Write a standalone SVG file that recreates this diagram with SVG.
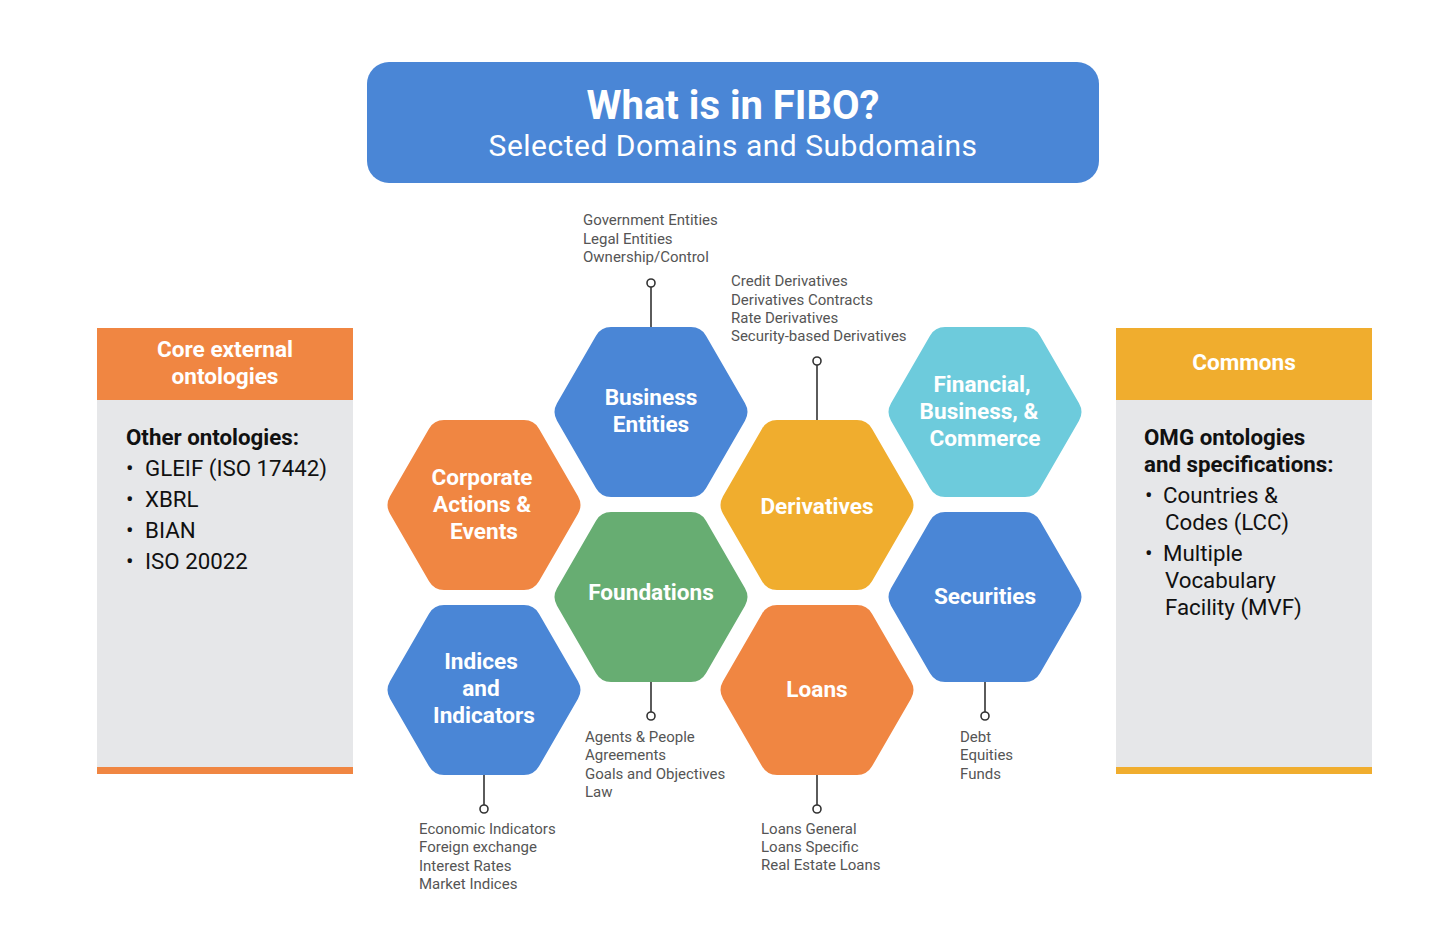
<svg xmlns="http://www.w3.org/2000/svg" width="1450" height="945" viewBox="0 0 1450 945">
<defs>
<style>
.hl{font-family:Roboto,"Liberation Sans",sans-serif;font-weight:700;fill:#fff;font-size:22.6px;text-anchor:middle}
.sm{font-family:Roboto,"Liberation Sans",sans-serif;fill:#555;font-size:15px}
.pt{font-family:Roboto,"Liberation Sans",sans-serif;fill:#111;font-size:22.3px}
.pb{font-family:Roboto,"Liberation Sans",sans-serif;fill:#111;font-size:22.3px;font-weight:700}
.ln{stroke:#333;stroke-width:1.6;fill:none}
.dot{stroke:#333;stroke-width:1.6;fill:#fff}
</style>
<path id="hex" d="M -94,8.67 Q -99,0 -94,-8.67 L -55,-76.33 Q -50,-85 -40,-85 L 40,-85 Q 50,-85 55,-76.33 L 94,-8.67 Q 99,0 94,8.67 L 55,76.33 Q 50,85 40,85 L -40,85 Q -50,85 -55,76.33 Z"/>
</defs>
<rect width="1450" height="945" fill="#fff"/>
<g id="title">
<rect x="367" y="62" width="732" height="121" rx="22" fill="#4A86D6"/>
<text x="733" y="119" text-anchor="middle" font-family="Roboto,'Liberation Sans',sans-serif" font-weight="700" font-size="40" fill="#fff">What is in FIBO?</text>
<text x="733" y="156" text-anchor="middle" font-family="Roboto,'Liberation Sans',sans-serif" font-size="30" letter-spacing="0.5" fill="#fff">Selected Domains and Subdomains</text>
</g>
<g id="panel-left">
<rect x="97" y="328" width="256" height="446" fill="#E6E7E9"/>
<rect x="97" y="328" width="256" height="72" fill="#F08642"/>
<rect x="97" y="767" width="256" height="7" fill="#F08642"/>
<text class="hl" x="225" y="357">Core external</text>
<text class="hl" x="225" y="384">ontologies</text>
<text class="pb" x="126" y="445">Other ontologies:</text>
<text class="pt" x="126" y="476">•</text><text class="pt" x="145" y="476">GLEIF (ISO 17442)</text>
<text class="pt" x="126" y="507">•</text><text class="pt" x="145" y="507">XBRL</text>
<text class="pt" x="126" y="538">•</text><text class="pt" x="145" y="538">BIAN</text>
<text class="pt" x="126" y="569">•</text><text class="pt" x="145" y="569">ISO 20022</text>
</g>
<g id="panel-right">
<rect x="1116" y="328" width="256" height="446" fill="#E6E7E9"/>
<rect x="1116" y="328" width="256" height="72" fill="#F0AD2E"/>
<rect x="1116" y="767" width="256" height="7" fill="#F0AD2E"/>
<text class="hl" x="1244" y="370">Commons</text>
<text class="pb" x="1144" y="445">OMG ontologies</text>
<text class="pb" x="1144" y="472">and specifications:</text>
<text class="pt" x="1145" y="503">•</text><text class="pt" x="1163" y="503">Countries &amp;</text>
<text class="pt" x="1165" y="530">Codes (LCC)</text>
<text class="pt" x="1145" y="561">•</text><text class="pt" x="1163" y="561">Multiple</text>
<text class="pt" x="1165" y="588">Vocabulary</text>
<text class="pt" x="1165" y="615">Facility (MVF)</text>
</g>
<g id="connectors">
<line class="ln" x1="651" y1="327" x2="651" y2="287"/><circle class="dot" cx="651" cy="283" r="4"/>
<line class="ln" x1="817" y1="420" x2="817" y2="365"/><circle class="dot" cx="817" cy="361" r="4"/>
<line class="ln" x1="651" y1="682" x2="651" y2="712"/><circle class="dot" cx="651" cy="716" r="4"/>
<line class="ln" x1="484" y1="775" x2="484" y2="805"/><circle class="dot" cx="484" cy="809" r="4"/>
<line class="ln" x1="817" y1="775" x2="817" y2="805"/><circle class="dot" cx="817" cy="809" r="4"/>
<line class="ln" x1="985" y1="682" x2="985" y2="712"/><circle class="dot" cx="985" cy="716" r="4"/>
</g>
<g id="business-entities">
<use href="#hex" x="651" y="412" fill="#4A86D6"/>
<text class="hl" x="651" y="405">Business</text><text class="hl" x="651" y="432">Entities</text>
<text class="sm" x="583" y="225">Government Entities</text><text class="sm" x="583" y="244">Legal Entities</text><text class="sm" x="583" y="262">Ownership/Control</text>
</g>
<g id="corporate-actions">
<use href="#hex" x="484" y="505" fill="#F08642"/>
<text class="hl" x="482" y="485">Corporate</text><text class="hl" x="482" y="512">Actions &amp;</text><text class="hl" x="484" y="539">Events</text>
</g>
<g id="foundations">
<use href="#hex" x="651" y="597" fill="#67AD72"/>
<text class="hl" x="651" y="600">Foundations</text>
<text class="sm" x="585" y="742">Agents &amp; People</text><text class="sm" x="585" y="760">Agreements</text><text class="sm" x="585" y="779">Goals and Objectives</text><text class="sm" x="585" y="797">Law</text>
</g>
<g id="derivatives">
<use href="#hex" x="817" y="505" fill="#F0AD2E"/>
<text class="hl" x="817" y="514">Derivatives</text>
<text class="sm" x="731" y="286">Credit Derivatives</text><text class="sm" x="731" y="305">Derivatives Contracts</text><text class="sm" x="731" y="323">Rate Derivatives</text><text class="sm" x="731" y="341">Security-based Derivatives</text>
</g>
<g id="financial-business-commerce">
<use href="#hex" x="985" y="412" fill="#6DCBDC"/>
<text class="hl" x="982" y="392">Financial,</text><text class="hl" x="979" y="419">Business, &amp;</text><text class="hl" x="985" y="446">Commerce</text>
</g>
<g id="securities">
<use href="#hex" x="985" y="597" fill="#4A86D6"/>
<text class="hl" x="985" y="604">Securities</text>
<text class="sm" x="960" y="742">Debt</text><text class="sm" x="960" y="760">Equities</text><text class="sm" x="960" y="779">Funds</text>
</g>
<g id="indices-indicators">
<use href="#hex" x="484" y="690" fill="#4A86D6"/>
<text class="hl" x="481" y="669">Indices</text><text class="hl" x="481" y="696">and</text><text class="hl" x="484" y="723">Indicators</text>
<text class="sm" x="419" y="834">Economic Indicators</text><text class="sm" x="419" y="852">Foreign exchange</text><text class="sm" x="419" y="871">Interest Rates</text><text class="sm" x="419" y="889">Market Indices</text>
</g>
<g id="loans">
<use href="#hex" x="817" y="690" fill="#F08642"/>
<text class="hl" x="817" y="697">Loans</text>
<text class="sm" x="761" y="834">Loans General</text><text class="sm" x="761" y="852">Loans Specific</text><text class="sm" x="761" y="870">Real Estate Loans</text>
</g>
</svg>
